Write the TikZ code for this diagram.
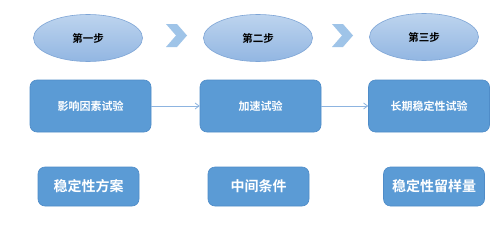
\documentclass[tikz,border=0pt]{standalone}
\usepackage{fontspec}
\newfontfamily\cjk{Noto Sans CJK SC Bold}
\usetikzlibrary{shapes.geometric,arrows.meta}
\definecolor{ellfillA}{HTML}{BDD4EE}
\definecolor{ellfillB}{HTML}{92B6E2}
\definecolor{ellline}{HTML}{7EA5D6}
\definecolor{boxfill}{HTML}{5B9BD5}
\definecolor{boxline}{HTML}{4F8CC8}
\definecolor{chev}{HTML}{9FC4E8}
\definecolor{arr}{HTML}{8DB4E0}
\tikzset{
  stepell/.style={ellipse, draw=ellline, line width=0.6pt, top color=ellfillA, bottom color=ellfillB, minimum width=109pt, minimum height=47pt, inner sep=0pt, font=\cjk\fontsize{10.5}{12}\selectfont, text=black},
  topbox/.style={rectangle, rounded corners=7pt, draw=boxline, line width=0.6pt, fill=boxfill, minimum width=121pt, minimum height=52pt, inner sep=0pt, font=\cjk\fontsize{11}{13}\selectfont, text=white},
  botbox/.style={rectangle, rounded corners=7pt, draw=boxline, line width=0.6pt, fill=boxfill, minimum width=101pt, minimum height=39pt, inner sep=0pt, font=\cjk\fontsize{14}{16}\selectfont, text=white},
  conn/.style={draw=arr, line width=0.8pt, -{Straight Barb[length=4pt,width=6pt]}},
  chevshape/.style={fill=chev, draw=none}
}
\begin{document}
\begin{tikzpicture}[x=1pt,y=-1pt]
\useasboundingbox[fill=white] (0,0) rectangle (500,233);
\node[stepell] (e1) at (88,38) {第一步};
\node[stepell] (e2) at (258,38) {第二步};
\node[stepell] (e3) at (424,37) {第三步};
\fill[chevshape] (166,24) -- (177,24) -- (187,35.5) -- (177,47) -- (166,47) -- (176,35.5) -- cycle;
\fill[chevshape] (332,24) -- (343,24) -- (353,35.5) -- (343,47) -- (332,47) -- (342,35.5) -- cycle;
\node[topbox] (t1) at (90.5,106) {影响因素试验};
\node[topbox] (t2) at (260.5,106) {加速试验};
\node[topbox] (t3) at (429,106) {长期稳定性试验};
\node[botbox] (b1) at (88.5,186.5) {稳定性方案};
\node[botbox] (b2) at (258.5,186.5) {中间条件};
\node[botbox] (b3) at (434,186.5) {稳定性留样量};
\draw[conn] (t1.east) -- (t2.west);
\draw[conn] (t2.east) -- (t3.west);
\end{tikzpicture}
\end{document}
